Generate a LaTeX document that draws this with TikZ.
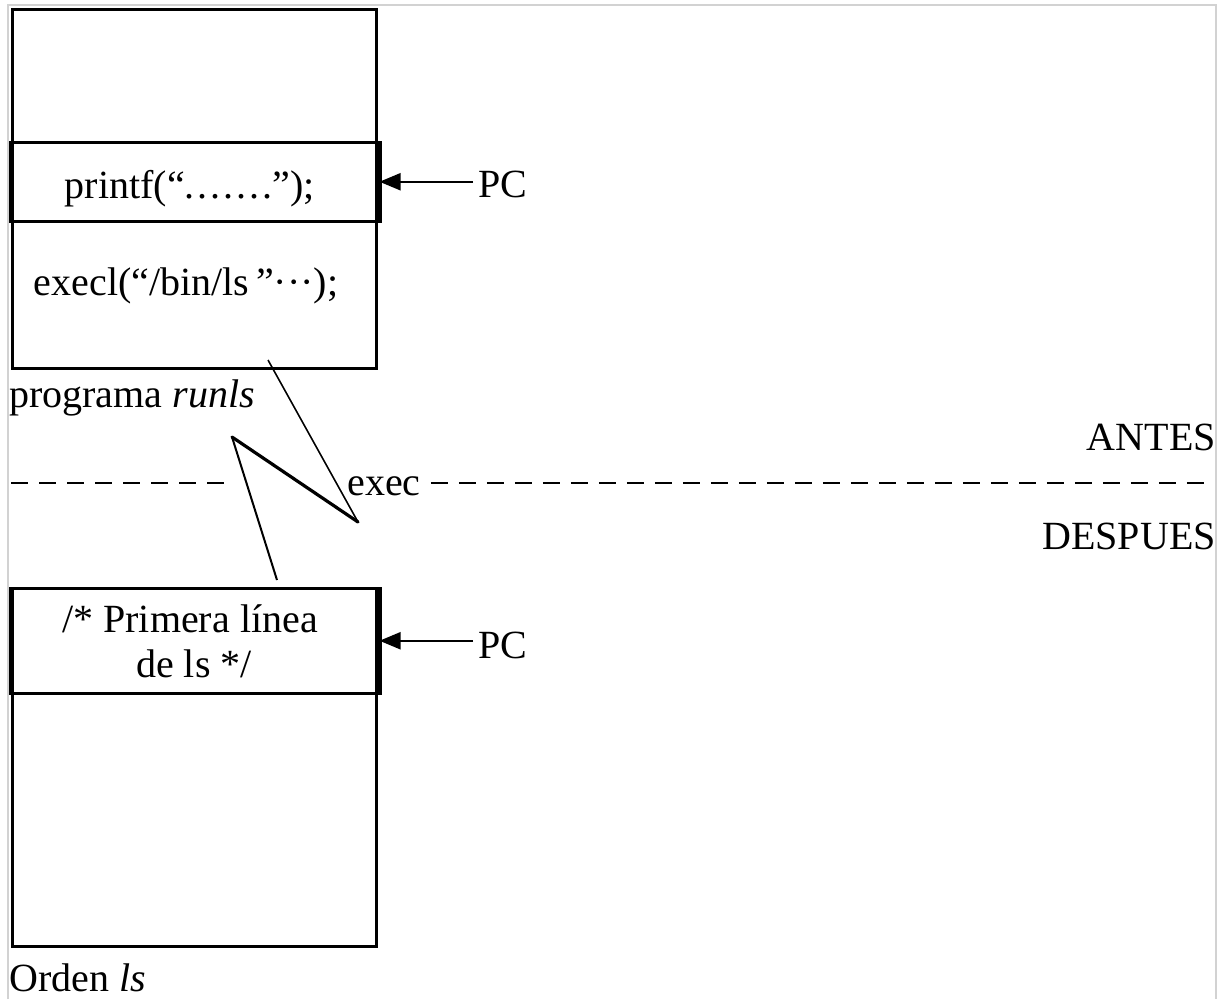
\documentclass[tikz,border=0pt]{standalone}
\usepackage{fontspec}
\setmainfont{Liberation Serif}
\usetikzlibrary{arrows.meta}
\newcommand{\dotrow}{.\hspace{3pt}.\hspace{3pt}.\hspace{3pt}.\hspace{3pt}.\hspace{3pt}.\hspace{3pt}.}
\begin{document}
\begin{tikzpicture}[x=1pt,y=-1pt,
  txt/.style={inner sep=0pt, font=\fontsize{40}{45}\selectfont},
  membox/.style={draw, line width=2.5pt, anchor=north west, inner sep=0pt, minimum width=364pt},
  curbox/.style={draw, line width=2.5pt, anchor=north west, inner sep=0pt, minimum width=366pt},
  pcarrow/.style={line width=2pt, -{Triangle[length=21pt,width=17pt]}},
  divline/.style={line width=2.5pt, dash pattern=on 17pt off 11pt},
  bolt/.style={line width=1.6pt}]
\useasboundingbox (0,0) rectangle (1230,999);
% light frame
\draw[gray!35, line width=1.5pt] (8,999) -- (8,5) -- (1216,5) -- (1216,999);
% top memory box
\node[membox, minimum height=359pt] (prog) at (11,8) {};
\node[curbox, minimum height=79pt] (pf) at (11,141) {};
\draw[line width=4.5pt] (pf.north west) -- (pf.south west) (pf.north east) -- (pf.south east);
\node[txt, anchor=base] (pft) at (190,198) {printf(“\dotrow”);};
\node[txt, anchor=base] (ex) at (186,295) {execl(“/bin/ls\,”···);};
\node[txt, anchor=base west, inner sep=5pt] (pc1) at (473,197) {PC};
\draw[pcarrow] (pc1.west |- pf.east) -- (pf.east);
\node[txt, anchor=base west] (runls) at (9,407) {programa \textit{runls}};
% bottom memory box
\node[membox, minimum height=358pt] (ls) at (11,587) {};
\node[curbox, minimum height=105pt] (pl) at (11,587) {};
\draw[line width=4.5pt] (pl.north west) -- (pl.south west) (pl.north east) -- (pl.south east);
\node[txt, align=center] (plt) at (190,641) {/* Primera línea\\ \hspace{8pt}de ls */};
\node[txt, anchor=base west, inner sep=5pt] (pc2) at (473,658) {PC};
\draw[pcarrow] (pc2.west |- pl.east) -- (pl.east);
\node[txt, anchor=base west] (orden) at (9,991) {Orden \textit{ls}};
% before / after divider
\node[txt, anchor=base] (exec) at (384,495) {exec};
\coordinate (dl) at (11,483);
\coordinate (dm) at (232,483);
\coordinate (dr) at (1212,483);
\draw[divline] (dl) -- (dm);
\draw[divline] ([xshift=10pt]exec.east |- dl) -- (dr);
\node[txt, anchor=base east] (antes) at (1216,450) {ANTES};
\node[txt, anchor=base east] (despues) at (1216,549) {DESPUES};
% lightning
\coordinate (b1) at (268,360);
\coordinate (b2) at (358,522);
\coordinate (b3) at (232,437);
\coordinate (b4) at (277,580);
\draw[bolt] (b1) -- (b2);
\draw[line width=3.2pt, line cap=round] (b2) -- (b3);
\draw[bolt, line width=2pt] (b3) -- (b4);
\end{tikzpicture}
\end{document}
